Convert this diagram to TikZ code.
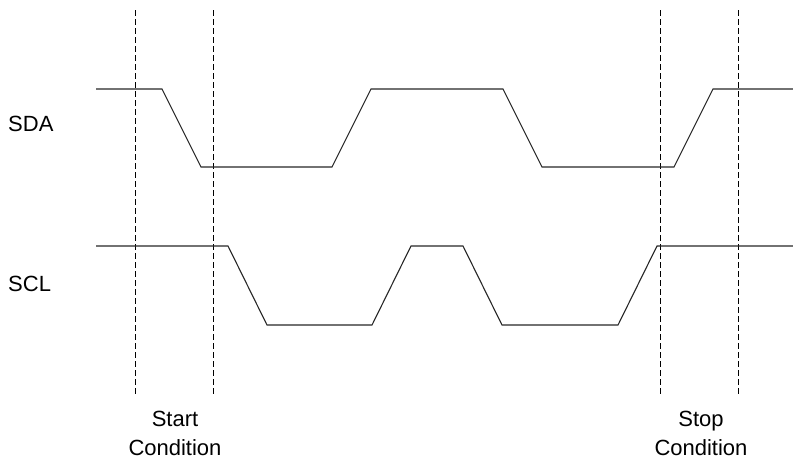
\documentclass[tikz,border=0pt]{standalone}
\usepackage{fontspec}
\setmainfont{Liberation Sans}
\begin{document}
\begin{tikzpicture}[x=1pt,y=-1pt,
  wave/.style={line width=1.1pt,color=black!85},
  guide/.style={line width=0.9pt,dash pattern=on 6pt off 3pt},
  lbl/.style={font=\fontsize{22}{29}\selectfont,align=center,inner sep=0pt}]
  \useasboundingbox (0,0) rectangle (793,461);
  % guide lines
  \foreach \gx in {135,213,660,738}
    \draw[guide] (\gx,10) -- (\gx,395);
  % SDA
  \draw[wave] (96,89) -- (162,89) -- (201,167) -- (332,167) -- (371,89)
    -- (503,89) -- (542,167) -- (674,167) -- (713,89) -- (793,89);
  % SCL
  \draw[wave] (96,246) -- (228,246) -- (267,325) -- (372,325) -- (411,246)
    -- (463,246) -- (502,325) -- (618,325) -- (657,246) -- (793,246);
  \node[lbl,anchor=west] (sda) at (8,124) {SDA};
  \node[lbl,anchor=west] (scl) at (8,284) {SCL};
  \node[lbl] (start) at (175,433) {Start\\Condition};
  \node[lbl] (stop) at (701,433) {Stop\\Condition};
\end{tikzpicture}
\end{document}
